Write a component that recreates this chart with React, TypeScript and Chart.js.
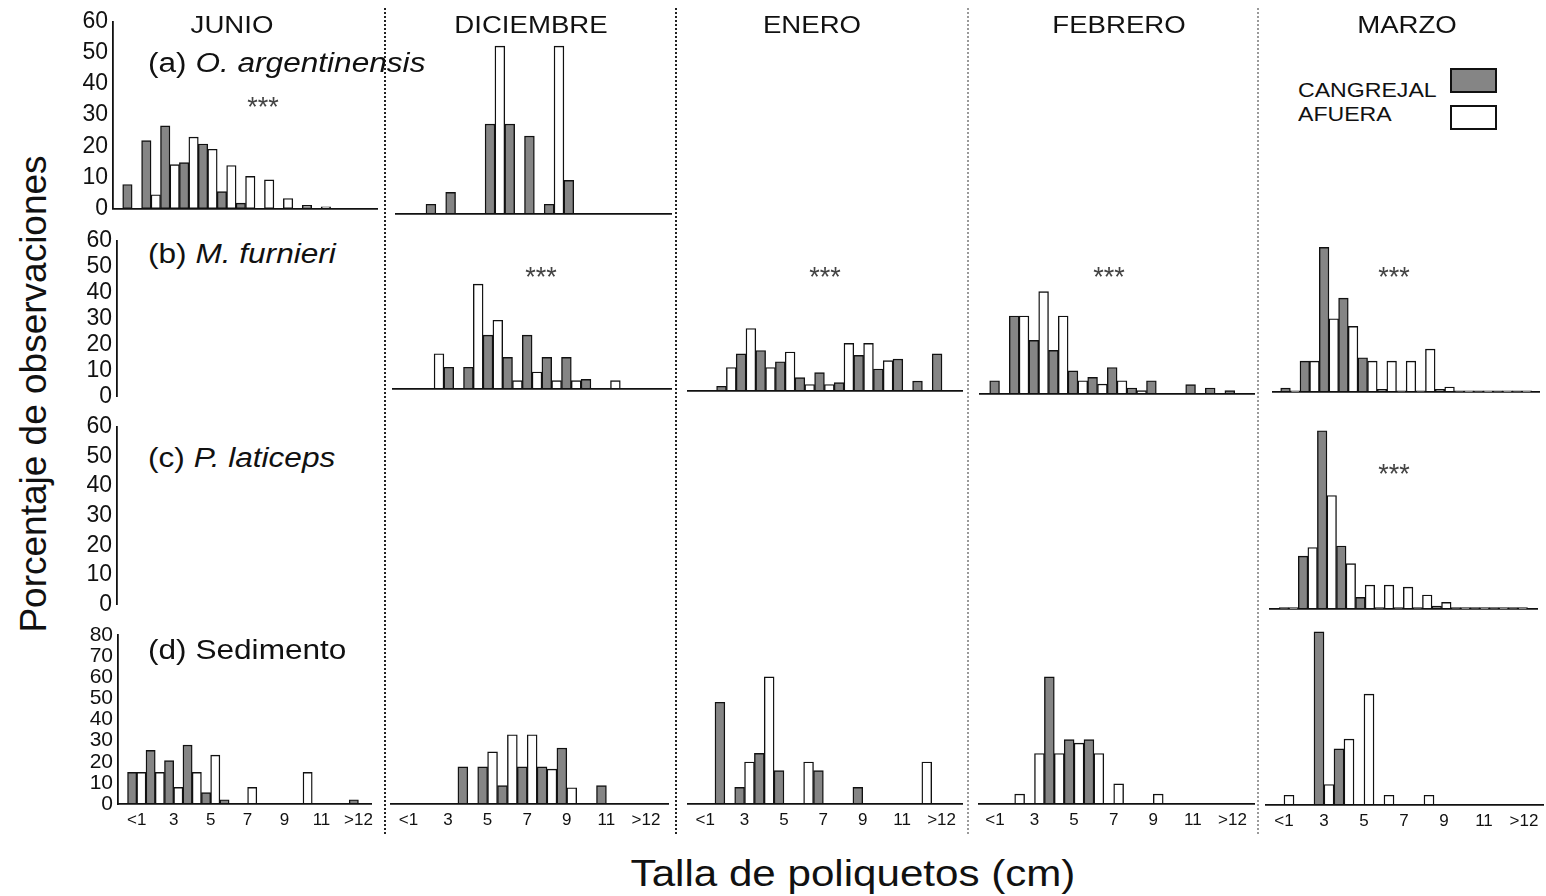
import React, { useEffect, useRef } from "react";
import { Chart, registerables } from "chart.js";

Chart.register(...registerables);

// ---- data -------------------------------------------------------------
// size classes of the polychaetes (cm)
const SIZE_CLASSES = ["<1", "2", "3", "4", "5", "6", "7", "8", "9", "10", "11", "12", ">12"];
const MONTHS = ["JUNIO", "DICIEMBRE", "ENERO", "FEBRERO", "MARZO"];
const GROUPS = ["CANGREJAL", "AFUERA"];
const SOURCES = [
  { tag: "(a)", name: "O. argentinensis", italic: true },
  { tag: "(b)", name: "M. furnieri", italic: true },
  { tag: "(c)", name: "P. laticeps", italic: true },
  { tag: "(d)", name: "Sedimento", italic: false },
];
const Y_TICK_MAX = [60, 60, 60, 80];
const SIGNIFICANCE = "***";

// (a) O. argentinensis
const JUNIO_A_CANGREJAL = [7.7, 21.8, 26.5, 14.7, 20.7, 5.4, 1.7, 0, 0, 0, 0, 0, 0];
const JUNIO_A_AFUERA = [0, 4.4, 14.1, 22.9, 19.0, 13.8, 10.3, 9.2, 3.2, 1.0, 0.5, 0, 0];
const DICIEMBRE_A_CANGREJAL = [0, 3.1, 6.9, 0, 28.6, 28.6, 24.8, 3.1, 10.7, 0, 0, 0, 0];
const DICIEMBRE_A_AFUERA = [0, 0, 0, 0, 53.4, 0, 0, 53.4, 0, 0, 0, 0, 0];

// (b) M. furnieri
const DICIEMBRE_B_CANGREJAL = [0, 0, 8.3, 8.3, 20.6, 12.1, 20.6, 12.1, 12.1, 3.7, 0, 0, 0];
const DICIEMBRE_B_AFUERA = [0, 13.5, 0, 40.1, 26.3, 3.2, 6.5, 3.2, 3.2, 0, 3.2, 0, 0];
const ENERO_B_CANGREJAL = [0, 1.8, 14.2, 15.5, 11.2, 5.1, 7.0, 3.2, 13.6, 8.4, 12.2, 3.8, 14.2];
const ENERO_B_AFUERA = [0, 9.0, 23.9, 9.0, 14.9, 2.5, 2.5, 18.2, 18.2, 11.6, 0, 0, 0];
const FEBRERO_B_CANGREJAL = [5.1, 30.0, 20.6, 16.8, 8.9, 6.4, 10.2, 2.3, 5.1, 0, 3.6, 2.3, 1.3];
const FEBRERO_B_AFUERA = [0, 30.0, 39.4, 30.0, 5.1, 3.8, 5.1, 1.3, 0, 0, 0, 0, 0];
const MARZO_B_CANGREJAL = [1.5, 11.8, 55.3, 35.9, 13.1, 1.0, 0.4, 0.4, 1.0, 0.4, 0.4, 0.4, 0.4];
const MARZO_B_AFUERA = [0.4, 11.8, 28.0, 25.1, 11.8, 11.8, 11.8, 16.4, 1.9, 0.4, 0.4, 0.4, 0.4];

// (c) P. laticeps
const MARZO_C_CANGREJAL = [0.5, 17.7, 59.7, 21.1, 3.9, 0.5, 0.5, 0.5, 1.0, 0.5, 0.5, 0.5, 0.5];
const MARZO_C_AFUERA = [0.5, 20.6, 38.0, 15.2, 8.0, 8.0, 7.3, 4.7, 2.2, 0.5, 0.5, 0.5, 0.5];

// (d) Sedimento
const JUNIO_D_CANGREJAL = [15.0, 25.4, 20.5, 27.9, 5.4, 2.0, 0, 0, 0, 0, 0, 0, 2.0];
const JUNIO_D_AFUERA = [15.0, 15.0, 7.9, 15.0, 23.1, 0, 7.9, 0, 0, 15.0, 0, 0, 0];
const DICIEMBRE_D_CANGREJAL = [0, 0, 0, 17.6, 17.6, 8.7, 17.6, 17.6, 26.5, 0, 8.7, 0, 0];
const DICIEMBRE_D_AFUERA = [0, 0, 0, 0, 24.7, 32.8, 32.8, 16.5, 7.7, 0, 0, 0, 0];
const ENERO_D_CANGREJAL = [0, 48.2, 7.9, 24.0, 15.8, 0, 15.8, 0, 7.9, 0, 0, 0, 0];
const ENERO_D_AFUERA = [0, 0, 19.9, 60.2, 0, 19.9, 0, 0, 0, 0, 0, 19.9, 0];
const FEBRERO_D_CANGREJAL = [0, 0, 0, 60.2, 30.5, 30.5, 0, 0, 0, 0, 0, 0, 0];
const FEBRERO_D_AFUERA = [0, 4.7, 23.9, 23.9, 28.8, 23.9, 9.5, 0, 4.7, 0, 0, 0, 0];
const MARZO_D_CANGREJAL = [0, 0, 82.0, 26.6, 0, 0, 0, 0, 0, 0, 0, 0, 0];
const MARZO_D_AFUERA = [4.6, 0, 9.7, 31.2, 52.5, 4.6, 0, 4.6, 0, 0, 0, 0, 0];

type PanelSpec = { col: number; row: number; crab?: number[]; out?: number[]; marked?: boolean };

const PANELS: PanelSpec[] = [
  { col: 0, row: 0, crab: JUNIO_A_CANGREJAL, out: JUNIO_A_AFUERA, marked: true },
  { col: 0, row: 1 },
  { col: 0, row: 2 },
  { col: 0, row: 3, crab: JUNIO_D_CANGREJAL, out: JUNIO_D_AFUERA },
  { col: 1, row: 0, crab: DICIEMBRE_A_CANGREJAL, out: DICIEMBRE_A_AFUERA },
  { col: 1, row: 1, crab: DICIEMBRE_B_CANGREJAL, out: DICIEMBRE_B_AFUERA, marked: true },
  { col: 1, row: 3, crab: DICIEMBRE_D_CANGREJAL, out: DICIEMBRE_D_AFUERA },
  { col: 2, row: 1, crab: ENERO_B_CANGREJAL, out: ENERO_B_AFUERA, marked: true },
  { col: 2, row: 3, crab: ENERO_D_CANGREJAL, out: ENERO_D_AFUERA },
  { col: 3, row: 1, crab: FEBRERO_B_CANGREJAL, out: FEBRERO_B_AFUERA, marked: true },
  { col: 3, row: 3, crab: FEBRERO_D_CANGREJAL, out: FEBRERO_D_AFUERA },
  { col: 4, row: 1, crab: MARZO_B_CANGREJAL, out: MARZO_B_AFUERA, marked: true },
  { col: 4, row: 2, crab: MARZO_C_CANGREJAL, out: MARZO_C_AFUERA, marked: true },
  { col: 4, row: 3, crab: MARZO_D_CANGREJAL, out: MARZO_D_AFUERA },
];

// ---- layout & style ---------------------------------------------------
const FONT = '"Liberation Sans", Arial, Helvetica, sans-serif';
const INK = "#111";
const BAR_GRAY = "#858585";

const ROW_PX_PER_UNIT = [3.14, 2.61, 2.99, 2.116];
const ROW_TICK_FONT = [23, 23, 23, 21];
const Y_AXIS_W = 52;
const X_AXIS_H = 30;
const PAD_T = 16;
const PAD_B = 16;
const PAD_R = 3;

// baseline y, x-axis line ends, left edge of first size class, width of a size class
const FRAMES: Record<string, { base: number; left: number; right: number; start: number; step: number }> = {
  "0-0": { base: 209.3, left: 113, right: 377, start: 122.7, step: 18.9 },
  "0-1": { base: 397, left: 117, right: 121, start: 117, step: 19 },
  "0-2": { base: 605, left: 117, right: 121, start: 117, step: 19 },
  "0-3": { base: 804.3, left: 117.7, right: 376, start: 127.7, step: 18.8 },
  "1-0": { base: 213.7, left: 395, right: 671, start: 406.3, step: 19.7 },
  "1-1": { base: 389, left: 392, right: 671, start: 404.7, step: 19.6 },
  "1-3": { base: 804.3, left: 390, right: 668, start: 398.5, step: 19.8 },
  "2-1": { base: 391, left: 687, right: 962, start: 697, step: 19.6 },
  "2-3": { base: 804.3, left: 687, right: 962, start: 695.3, step: 19.7 },
  "3-1": { base: 394.3, left: 979, right: 1254, start: 989.7, step: 19.6 },
  "3-3": { base: 804.3, left: 978, right: 1254, start: 985, step: 19.8 },
  "4-1": { base: 391.7, left: 1272, right: 1539, start: 1280.7, step: 19.3 },
  "4-2": { base: 609, left: 1269, right: 1537, start: 1279.2, step: 19.1 },
  "4-3": { base: 805, left: 1265, right: 1543, start: 1274, step: 20 },
};

const STAR_AT: Record<string, [number, number]> = {
  "0-0": [263, 100.5],
  "1-1": [541, 271],
  "2-1": [825, 271],
  "3-1": [1109, 271],
  "4-1": [1394, 271],
  "4-2": [1394, 468],
};

const MONTH_CENTERS = [231.5, 530.5, 811.5, 1119, 1406.5];
const SOURCE_BASELINES = [73, 264, 468, 660];
const SEPARATORS = [
  { x: 385, color: "#222" },
  { x: 676, color: "#222" },
  { x: 968, color: "#9a9a9a" },
  { x: 1258, color: "#9a9a9a" },
];

function Panel({ spec }: { spec: PanelSpec }) {
  const ref = useRef<HTMLCanvasElement>(null);
  const f = FRAMES[`${spec.col}-${spec.row}`];
  const ppu = ROW_PX_PER_UNIT[spec.row];
  const withAxis = spec.col === 0;
  const withLabels = spec.row === 3;
  const hasBars = !!spec.crab;
  const yTop = withAxis ? Y_TICK_MAX[spec.row] : Y_TICK_MAX[spec.row] + 10;
  const yw = withAxis ? Y_AXIS_W : 0;
  const xh = withLabels ? X_AXIS_H : 0;
  const padB = withLabels ? 0 : PAD_B;
  const left = Math.round(f.left);
  const right = Math.round(f.right);
  const base = Math.round(f.base);
  const plotTop = Math.round(f.base - yTop * ppu);
  const canvasLeft = left - yw;
  const canvasTop = plotTop - PAD_T;
  const width = yw + (right - left) + PAD_R;
  const height = PAD_T + (base - plotTop) + xh + padB;
  const xMin = -0.5 - (f.start - left) / f.step;
  const xMax = xMin + (right - left) / f.step;

  useEffect(() => {
    const canvas = ref.current;
    if (!canvas) return;
    const barStyle = {
      borderColor: INK,
      borderWidth: 1.4,
      borderSkipped: false as const,
      barPercentage: 1,
      categoryPercentage: 1,
    };
    const datasets = hasBars
      ? [
          { label: GROUPS[0], data: spec.crab!.map((v, i) => ({ x: i, y: v })), backgroundColor: BAR_GRAY, ...barStyle },
          { label: GROUPS[1], data: spec.out!.map((v, i) => ({ x: i, y: v })), backgroundColor: "#ffffff", ...barStyle },
        ]
      : [];
    const chart = new Chart(canvas, {
      type: "bar",
      data: { datasets: datasets as any },
      options: {
        animation: false,
        responsive: false,
        devicePixelRatio: 1,
        events: [],
        layout: { padding: { top: PAD_T, bottom: padB, left: 0, right: PAD_R } },
        plugins: { legend: { display: false }, tooltip: { enabled: false } },
        scales: {
          x: {
            type: "linear",
            min: xMin,
            max: xMax,
            offset: false,
            display: hasBars,
            grid: { display: false, drawTicks: false, offset: false },
            border: { display: true, color: INK, width: 1.8 },
            afterBuildTicks: (s: any) => {
              s.ticks = SIZE_CLASSES.map((_, i) => ({ value: i }));
            },
            afterFit: (s: any) => {
              s.height = xh;
            },
            ticks: {
              display: withLabels,
              autoSkip: false,
              maxRotation: 0,
              minRotation: 0,
              padding: 6,
              color: INK,
              font: { family: FONT, size: 17 },
              callback: (v: any) => (Number(v) % 2 === 0 ? SIZE_CLASSES[Number(v)] : ""),
            },
          },
          y: {
            min: 0,
            max: yTop,
            display: withAxis,
            grid: { display: false, drawTicks: false },
            border: { display: true, color: INK, width: 1.8 },
            afterFit: (s: any) => {
              s.width = yw;
            },
            ticks: {
              stepSize: 10,
              autoSkip: false,
              padding: 5,
              color: INK,
              font: { family: FONT, size: ROW_TICK_FONT[spec.row], lineHeight: 1 },
            },
          },
        },
      } as any,
    });
    return () => chart.destroy();
  }, []);

  return (
    <canvas
      ref={ref}
      width={width}
      height={height}
      style={{ position: "absolute", left: canvasLeft, top: canvasTop, width, height }}
    />
  );
}

function Txt({
  x,
  base,
  size,
  align = "left",
  stretch = 1,
  style,
  children,
}: {
  x: number;
  base: number;
  size: number;
  align?: "left" | "center";
  stretch?: number;
  style?: React.CSSProperties;
  children: React.ReactNode;
}) {
  const centered = align === "center";
  return (
    <div
      style={{
        position: "absolute",
        left: x,
        top: base - 0.847 * size,
        fontFamily: FONT,
        fontSize: size,
        lineHeight: `${size}px`,
        whiteSpace: "nowrap",
        color: INK,
        transform: `${centered ? "translateX(-50%) " : ""}scaleX(${stretch})`,
        transformOrigin: centered ? "center center" : "left center",
        ...style,
      }}
    >
      {children}
    </div>
  );
}

export default function App() {
  return (
    <div
      style={{
        position: "absolute",
        left: 0,
        top: 0,
        width: 1546,
        height: 896,
        background: "#fff",
        overflow: "hidden",
      }}
    >
      {PANELS.map((p) => (
        <Panel key={`${p.col}-${p.row}`} spec={p} />
      ))}

      {SEPARATORS.map((s) => (
        <div
          key={s.x}
          style={{
            position: "absolute",
            left: s.x - 1,
            top: 8,
            height: 826,
            borderLeft: `2px dotted ${s.color}`,
          }}
        />
      ))}

      {MONTHS.map((m, i) => (
        <Txt key={m} x={MONTH_CENTERS[i]} base={33} size={24} align="center" stretch={1.15}>
          {m}
        </Txt>
      ))}

      {SOURCES.map((s, i) => (
        <Txt key={s.tag} x={148} base={SOURCE_BASELINES[i]} size={27} stretch={1.17}>
          {s.tag} {s.italic ? <i>{s.name}</i> : s.name}
        </Txt>
      ))}

      {PANELS.filter((p) => p.marked).map((p) => {
        const [cx, cy] = STAR_AT[`${p.col}-${p.row}`];
        return (
          <Txt
            key={`star-${p.col}-${p.row}`}
            x={cx}
            base={cy + 16}
            size={27}
            align="center"
            style={{ color: "#444", letterSpacing: 0 }}
          >
            {SIGNIFICANCE}
          </Txt>
        );
      })}

      {/* legend */}
      <Txt x={1298} base={97} size={21} stretch={1.1}>
        {GROUPS[0]}
      </Txt>
      <Txt x={1298} base={121} size={21} stretch={1.1}>
        {GROUPS[1]}
      </Txt>
      <div
        style={{
          position: "absolute",
          left: 1450,
          top: 68,
          width: 47,
          height: 25,
          boxSizing: "border-box",
          border: `2px solid ${INK}`,
          background: BAR_GRAY,
        }}
      />
      <div
        style={{
          position: "absolute",
          left: 1450,
          top: 105,
          width: 47,
          height: 25,
          boxSizing: "border-box",
          border: `2px solid ${INK}`,
          background: "#fff",
        }}
      />

      {/* axis titles */}
      <Txt x={853} base={886} size={36} align="center" stretch={1.17}>
        Talla de poliquetos (cm)
      </Txt>
      <div
        style={{
          position: "absolute",
          left: 32.5,
          top: 394,
          fontFamily: FONT,
          fontSize: 37,
          lineHeight: "37px",
          whiteSpace: "nowrap",
          color: INK,
          transform: "translate(-50%, -50%) rotate(-90deg)",
        }}
      >
        Porcentaje de observaciones
      </div>
    </div>
  );
}
